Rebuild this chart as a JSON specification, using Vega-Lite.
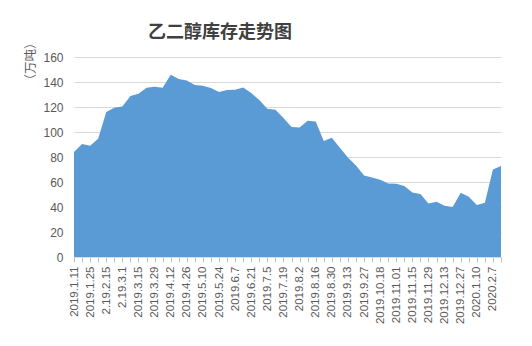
{
  "$schema": "https://vega.github.io/schema/vega-lite/v6.json",
  "width": 427,
  "height": 200,
  "autosize": {"type": "none"},
  "padding": {"left": 74, "top": 57, "right": 31, "bottom": 89},
  "background": "white",
  "title": {
    "text": "乙二醇库存走势图",
    "anchor": "start",
    "frame": "group",
    "dx": 74,
    "offset": -6,
    "font": "Noto Sans CJK SC",
    "fontSize": 18,
    "fontWeight": "bold",
    "color": "#404040"
  },
  "config": {
    "view": {"stroke": null},
    "axis": {
      "labelFont": "Liberation Sans",
      "labelColor": "#595959",
      "gridColor": "#d9d9d9",
      "gridWidth": 1
    }
  },
  "data": {
    "values": [
      {"date": "2019.1.11", "value": 84},
      {"date": "2019.1.18", "value": 90.4},
      {"date": "2019.1.25", "value": 89},
      {"date": "2019.2.1", "value": 94.7},
      {"date": "2.19.2.15", "value": 116},
      {"date": "2019.2.22", "value": 119.5},
      {"date": "2.19.3.1", "value": 120.5},
      {"date": "2019.3.8", "value": 128.8},
      {"date": "2019.3.15", "value": 130.7},
      {"date": "2019.3.22", "value": 135.5},
      {"date": "2019.3.29", "value": 136.3},
      {"date": "2019.4.4", "value": 135.5},
      {"date": "2019.4.12", "value": 145.9},
      {"date": "2019.4.19", "value": 142.4},
      {"date": "2019.4.26", "value": 141.3},
      {"date": "2019.5.3", "value": 137.6},
      {"date": "2019.5.10", "value": 137},
      {"date": "2019.5.17", "value": 135.2},
      {"date": "2019.5.24", "value": 132},
      {"date": "2019.5.31", "value": 133.6},
      {"date": "2019.6.7", "value": 133.9},
      {"date": "2019.6.14", "value": 135.7},
      {"date": "2019.6.21", "value": 131.2},
      {"date": "2019.6.28", "value": 125.6},
      {"date": "2019.7.5", "value": 118.7},
      {"date": "2019.7.12", "value": 117.9},
      {"date": "2019.7.19", "value": 111.2},
      {"date": "2019.7.26", "value": 104},
      {"date": "2019.8.2", "value": 103.7},
      {"date": "2019.8.9", "value": 109},
      {"date": "2019.8.16", "value": 108.5},
      {"date": "2019.8.23", "value": 92.8},
      {"date": "2019.8.30", "value": 95.5},
      {"date": "2019.9.6", "value": 87.5},
      {"date": "2019.9.13", "value": 79.7},
      {"date": "2019.9.20", "value": 73.3},
      {"date": "2019.9.27", "value": 65.3},
      {"date": "2019.10.11", "value": 63.7},
      {"date": "2019.10.18", "value": 61.9},
      {"date": "2019.10.25", "value": 58.9},
      {"date": "2019.11.01", "value": 58.7},
      {"date": "2019.11.08", "value": 56.8},
      {"date": "2019.11.15", "value": 51.7},
      {"date": "2019.11.22", "value": 50.4},
      {"date": "2019.11.29", "value": 42.9},
      {"date": "2019.12.06", "value": 44.3},
      {"date": "2019.12.13", "value": 41},
      {"date": "2019.12.20", "value": 40},
      {"date": "2019.12.27", "value": 51.5},
      {"date": "2020.1.3", "value": 48.3},
      {"date": "2020.1.10", "value": 41.6},
      {"date": "2020.1.17", "value": 43.5},
      {"date": "2020.2.7", "value": 70.1},
      {"date": "2020.2.14", "value": 72.8}
    ]
  },
  "mark": {"type": "area", "color": "#5b9bd5", "opacity": 1},
  "encoding": {
    "x": {
      "field": "date",
      "type": "ordinal",
      "sort": null,
      "scale": {"type": "point", "padding": 0},
      "axis": {
        "title": null,
        "grid": false,
        "domain": true,
        "domainColor": "#d9d9d9",
        "ticks": true,
        "tickColor": "#bfbfbf",
        "tickSize": 5,
        "labelAngle": -90,
        "labelPadding": 4,
        "labelFontSize": 11.5,
        "labelOverlap": false,
        "labelExpr": "round(datum.index * 53) % 2 == 0 ? datum.label : ''"
      }
    },
    "y": {
      "field": "value",
      "type": "quantitative",
      "scale": {"domain": [0, 160]},
      "axis": {
        "values": [0, 20, 40, 60, 80, 100, 120, 140, 160],
        "domain": false,
        "ticks": false,
        "labelPadding": 11,
        "labelFontSize": 12,
        "title": "（万吨）",
        "titleFont": "Noto Sans CJK SC",
        "titleFontSize": 12.5,
        "titleFontWeight": "normal",
        "titleColor": "#595959",
        "titleAngle": -90,
        "titleAlign": "center",
        "titleBaseline": "middle",
        "titleX": -44,
        "titleY": 4
      }
    }
  }
}
